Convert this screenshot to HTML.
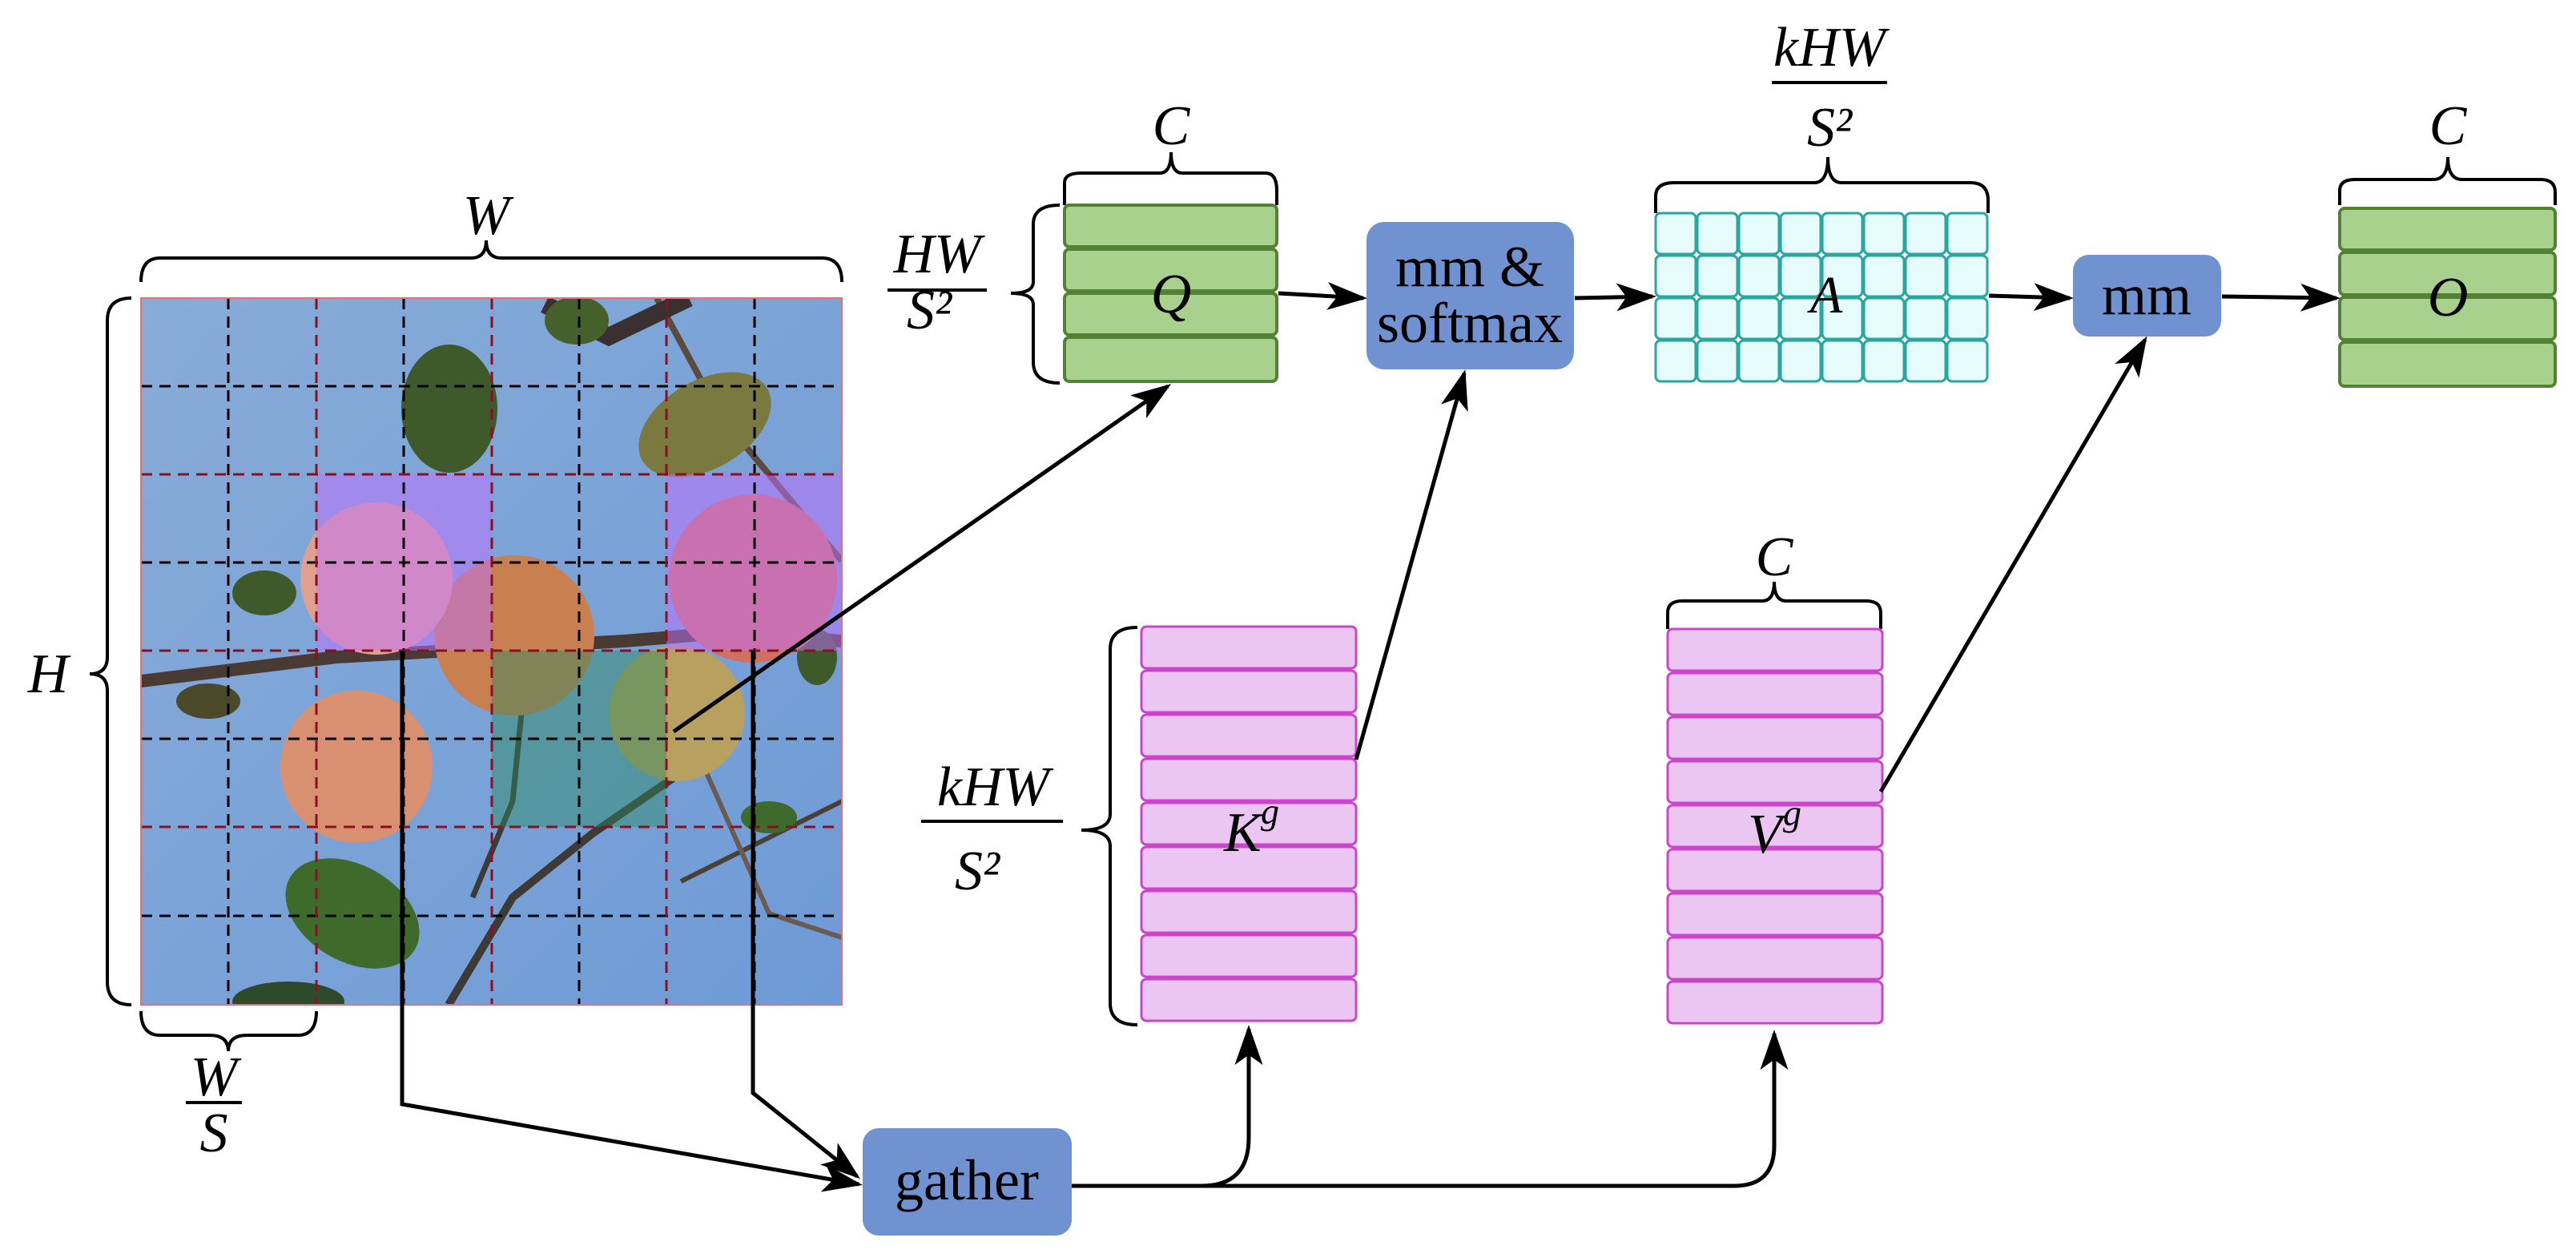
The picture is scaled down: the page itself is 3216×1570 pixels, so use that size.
<!DOCTYPE html>
<html><head><meta charset="utf-8"><style>
html,body{margin:0;padding:0;background:#fff}
svg{display:block}
svg text{font-family:"Liberation Serif",serif !important}
</style></head><body>
<svg width="3216" height="1570" viewBox="0 0 3216 1570" xmlns="http://www.w3.org/2000/svg" font-family="Liberation Serif, serif">
<defs>
<marker id="ah" markerWidth="10" markerHeight="10" refX="9" refY="5" orient="auto" markerUnits="strokeWidth">
<path d="M0,1.5 L10,5 L0,8.5 L2.5,5 Z" fill="#000"/></marker>
<clipPath id="pc"><rect x="176" y="372" width="875" height="882"/></clipPath>
<linearGradient id="sky" x1="0" y1="0" x2="1" y2="1"><stop offset="0" stop-color="#88acd8"/><stop offset="1" stop-color="#6e9ad6"/></linearGradient>
</defs>

<!-- photo -->
<g clip-path="url(#pc)">
<rect x="176" y="372" width="875" height="882" fill="url(#sky)"/>
<path d="M176,850 L420,820 L780,800 L900,790 L1051,800" stroke="#4a3a34" stroke-width="16" fill="none"/>
<path d="M820,372 L900,520 L1000,640 L1051,700" stroke="#5a4a40" stroke-width="8" fill="none"/>
<path d="M680,380 L760,420 L860,372" stroke="#3a3030" stroke-width="22" fill="none"/>
<path d="M560,1254 L640,1120 L740,1040 L900,930" stroke="#3e3a36" stroke-width="10" fill="none"/>
<path d="M660,800 L640,1000 L590,1120" stroke="#3e3a36" stroke-width="7" fill="none"/>
<path d="M850,1100 L1051,1000" stroke="#4a4038" stroke-width="6" fill="none"/>
<path d="M880,960 L960,1140 L1051,1170" stroke="#6a5a50" stroke-width="6" fill="none"/>
<ellipse cx="561" cy="510" rx="60" ry="80" fill="#3e5a2a"/>
<ellipse cx="720" cy="400" rx="40" ry="30" fill="#46602c"/>
<ellipse cx="880" cy="530" rx="90" ry="55" fill="#7a7a40" transform="rotate(-30 880 530)"/>
<ellipse cx="440" cy="1140" rx="90" ry="60" fill="#3e6a2c" transform="rotate(30 440 1140)"/>
<ellipse cx="330" cy="740" rx="40" ry="28" fill="#3e5a2a"/>
<ellipse cx="260" cy="875" rx="40" ry="22" fill="#4a4a2a"/>
<ellipse cx="1020" cy="820" rx="25" ry="35" fill="#3e5a2a"/>
<ellipse cx="960" cy="1020" rx="35" ry="20" fill="#3e6a2c"/>
<ellipse cx="360" cy="1250" rx="70" ry="25" fill="#2e4a2a"/>
<circle cx="845" cy="890" r="85" fill="#b8a060"/>
<circle cx="445" cy="957" r="95" fill="#d89070"/>
<circle cx="642" cy="793" r="100" fill="#c88050"/>
<circle cx="470" cy="722" r="95" fill="#e0a090"/>
<circle cx="940" cy="722" r="105" fill="#d07060"/>
<rect x="395" y="592" width="219" height="220" fill="#c070ff" fill-opacity="0.5"/>
<rect x="832" y="592" width="219" height="220" fill="#c070ff" fill-opacity="0.5"/>
<rect x="614" y="812" width="218" height="220" fill="#2a8a60" fill-opacity="0.45"/>
<g stroke="#000" stroke-width="3" stroke-dasharray="14,9">
<line x1="285" y1="372" x2="285" y2="1254"/><line x1="504" y1="372" x2="504" y2="1254"/>
<line x1="723" y1="372" x2="723" y2="1254"/><line x1="942" y1="372" x2="942" y2="1254"/>
<line x1="176" y1="482" x2="1051" y2="482"/><line x1="176" y1="702" x2="1051" y2="702"/>
<line x1="176" y1="922" x2="1051" y2="922"/><line x1="176" y1="1143" x2="1051" y2="1143"/>
</g>
<g stroke="#8a1020" stroke-width="3" stroke-dasharray="14,9">
<line x1="395" y1="372" x2="395" y2="1254"/><line x1="614" y1="372" x2="614" y2="1254"/>
<line x1="832" y1="372" x2="832" y2="1254"/>
<line x1="176" y1="592" x2="1051" y2="592"/><line x1="176" y1="812" x2="1051" y2="812"/>
<line x1="176" y1="1032" x2="1051" y2="1032"/>
</g>
</g>
<rect x="176" y="372" width="875" height="882" fill="none" stroke="#e07080" stroke-width="2"/>

<!-- braces -->
<g fill="none" stroke="#000" stroke-width="4">
<path d="M176,352 Q176,322 200,322 L588,322 Q607,322 607,300 Q607,322 626,322 L1026,322 Q1051,322 1051,352"/>
<path d="M164,372 Q134,372 134,400 L134,820 Q134,841 112,841 Q134,841 134,862 L134,1225 Q134,1254 164,1254"/>
<path d="M176,1262 Q176,1292 200,1292 L262,1292 Q285,1292 285,1312 Q285,1292 308,1292 L372,1292 Q395,1292 395,1262"/>
<path d="M1329,256 L1329,228 Q1329,216 1350,216 L1448,216 Q1462,216 1462,190 Q1462,216 1476,216 L1580,216 Q1594,216 1594,238 L1594,256"/>
<path d="M1323,256 Q1290,256 1290,280 L1290,352 Q1290,366 1262,366 Q1290,366 1290,380 L1290,452 Q1290,478 1323,478"/>
<path d="M2067,266 L2067,245 Q2067,228 2090,228 L2265,228 Q2282,228 2282,196 Q2282,228 2299,228 L2460,228 Q2482,228 2482,250 L2482,266"/>
<path d="M2921,256 L2921,238 Q2921,224 2940,224 L3038,224 Q3056,224 3056,196 Q3056,224 3074,224 L3172,224 Q3190,224 3190,240 L3190,256"/>
<path d="M1420,783 Q1386,783 1386,810 L1386,1016 Q1386,1036 1350,1036 Q1386,1036 1386,1056 L1386,1252 Q1386,1279 1420,1279"/>
<path d="M2082,785 L2082,765 Q2082,750 2100,750 L2200,750 Q2215,750 2215,726 Q2215,750 2230,750 L2330,750 Q2348,750 2348,765 L2348,785"/>
</g>

<!-- labels -->
<g font-style="italic" font-size="70" text-anchor="middle" fill="#000" font-family="Liberation Serif, serif">
<text x="607" y="292">W</text>
<text x="60" y="864">H</text>
<text x="267" y="1367">W</text>
<text x="267" y="1437">S</text>
<text x="1462" y="180">C</text>
<text x="1170" y="340">HW</text>
<text x="1160" y="410">S²</text>
<text x="2284" y="82">kHW</text>
<text x="2284" y="182">S²</text>
<text x="3056" y="180">C</text>
<text x="1240" y="1005">kHW</text>
<text x="1220" y="1110">S²</text>
<text x="2215" y="718">C</text>
</g>
<g stroke="#000" stroke-width="4">
<line x1="232" y1="1376" x2="302" y2="1376"/>
<line x1="1108" y1="362" x2="1232" y2="362"/>
<line x1="2212" y1="103" x2="2356" y2="103"/>
<line x1="1150" y1="1025" x2="1327" y2="1025"/>
</g>

<!-- Q -->
<g fill="#a9d18e" stroke="#548235" stroke-width="4">
<rect x="1329" y="256" width="265" height="52" rx="6"/><rect x="1329" y="311" width="265" height="52" rx="6"/>
<rect x="1329" y="366" width="265" height="52" rx="6"/><rect x="1329" y="421" width="265" height="55" rx="6"/>
</g>
<text font-style="italic" font-family="Liberation Serif, serif" x="1462" y="390" font-size="70" text-anchor="middle">Q</text>
<!-- O -->
<g fill="#a9d18e" stroke="#548235" stroke-width="4">
<rect x="2921" y="260" width="269" height="52" rx="6"/><rect x="2921" y="315" width="269" height="53" rx="6"/>
<rect x="2921" y="371" width="269" height="53" rx="6"/><rect x="2921" y="427" width="269" height="55" rx="6"/>
</g>
<text font-style="italic" font-family="Liberation Serif, serif" x="3056" y="394" font-size="70" text-anchor="middle">O</text>
<!-- A -->
<g fill="#e6fbfb" stroke="#2aa6a0" stroke-width="3">
<g id="arow">
<rect x="2067" y="266" width="50" height="51" rx="6"/><rect x="2119" y="266" width="50" height="51" rx="6"/>
<rect x="2171" y="266" width="50" height="51" rx="6"/><rect x="2223" y="266" width="50" height="51" rx="6"/>
<rect x="2275" y="266" width="50" height="51" rx="6"/><rect x="2327" y="266" width="50" height="51" rx="6"/>
<rect x="2379" y="266" width="50" height="51" rx="6"/><rect x="2431" y="266" width="50" height="51" rx="6"/>
</g>
<use href="#arow" y="53"/><use href="#arow" y="106"/><use href="#arow" y="159"/>
</g>
<text font-style="italic" font-family="Liberation Serif, serif" x="2280" y="390" font-size="66" text-anchor="middle">A</text>
<!-- blue boxes -->
<rect x="1706" y="277" width="259" height="184" rx="22" fill="#7092d0"/>
<text font-family="Liberation Serif, serif" x="1835" y="357" font-size="72" text-anchor="middle">mm &amp;</text>
<text font-family="Liberation Serif, serif" x="1835" y="427" font-size="72" text-anchor="middle">softmax</text>
<rect x="2588" y="318" width="185" height="102" rx="20" fill="#7092d0"/>
<text font-family="Liberation Serif, serif" x="2680" y="392" font-size="72" text-anchor="middle">mm</text>
<rect x="1077" y="1408" width="261" height="134" rx="20" fill="#7092d0"/>
<text font-family="Liberation Serif, serif" x="1207" y="1497" font-size="72" text-anchor="middle">gather</text>
<!-- K, V -->
<g fill="#ebc6f2" stroke="#cc44cc" stroke-width="3">
<g id="krow"><rect x="1425" y="782" width="268" height="52" rx="6"/></g>
<use href="#krow" y="55"/><use href="#krow" y="110"/><use href="#krow" y="165"/><use href="#krow" y="220"/>
<use href="#krow" y="275"/><use href="#krow" y="330"/><use href="#krow" y="385"/><use href="#krow" y="440"/>
<use href="#krow" x="657" y="3"/><use href="#krow" x="657" y="58"/><use href="#krow" x="657" y="113"/><use href="#krow" x="657" y="168"/>
<use href="#krow" x="657" y="223"/><use href="#krow" x="657" y="278"/><use href="#krow" x="657" y="333"/><use href="#krow" x="657" y="388"/><use href="#krow" x="657" y="443"/>
</g>
<text font-style="italic" font-family="Liberation Serif, serif" x="1528" y="1062" font-size="70">K</text>
<text font-style="italic" font-family="Liberation Serif, serif" x="1574" y="1028" font-size="46">g</text>
<text font-style="italic" font-family="Liberation Serif, serif" x="2182" y="1064" font-size="70">V</text>
<text font-style="italic" font-family="Liberation Serif, serif" x="2226" y="1030" font-size="46">g</text>

<!-- arrows -->
<g fill="none" stroke="#000" stroke-width="5" marker-end="url(#ah)">
<line x1="841" y1="913" x2="1458" y2="482"/>
<line x1="1596" y1="366" x2="1702" y2="372"/>
<line x1="1966" y1="372" x2="2063" y2="370"/>
<line x1="2483" y1="369" x2="2584" y2="372"/>
<line x1="2774" y1="370" x2="2917" y2="372"/>
<line x1="1693" y1="948" x2="1828" y2="466"/>
<line x1="2348" y1="988" x2="2678" y2="424"/>
<polyline points="502,812 502,1378 1072,1478"/>
<polyline points="940,812 940,1364 1070,1468"/>
<path d="M1338,1480 L1500,1480 Q1559,1480 1559,1420 L1559,1284"/>
<path d="M1500,1480 L2165,1480 Q2215,1480 2215,1430 L2215,1290"/>
</g>
</svg>
</body></html>
